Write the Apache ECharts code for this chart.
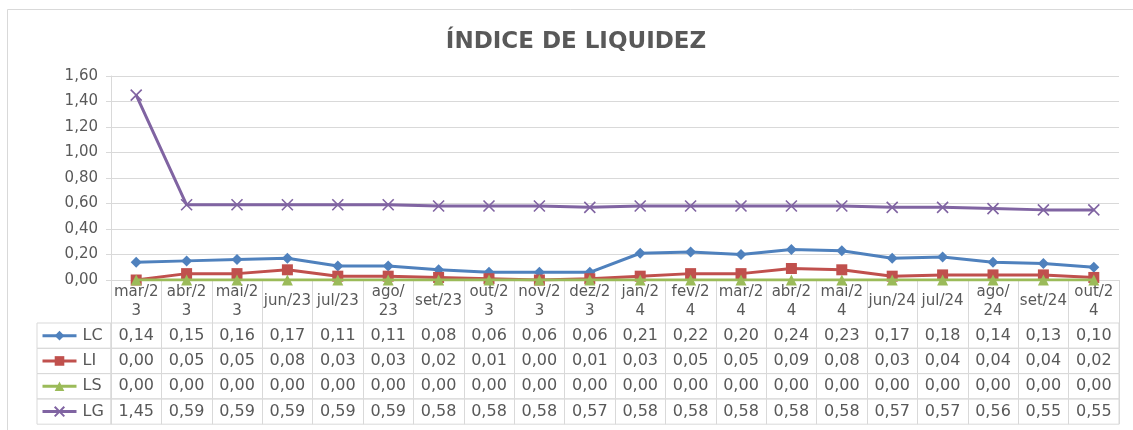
<!DOCTYPE html>
<html>
<head>
<meta charset="utf-8">
<script src="https://cdn.jsdelivr.net/npm/echarts@6/dist/echarts.min.js"></script>
<style>
  html, body { margin: 0; padding: 0; background: #ffffff; }
  #chart { width: 1133px; height: 430px; }
</style>
</head>
<body>
<div id="chart"></div>
<script>
// ---- data ----
var categories = ['mar/23','abr/23','mai/23','jun/23','jul/23','ago/23','set/23','out/23','nov/23','dez/23','jan/24','fev/24','mar/24','abr/24','mai/24','jun/24','jul/24','ago/24','set/24','out/24'];
var tickLabels = ['mar/2\n3','abr/2\n3','mai/2\n3','jun/23','jul/23','ago/\n23','set/23','out/2\n3','nov/2\n3','dez/2\n3','jan/2\n4','fev/2\n4','mar/2\n4','abr/2\n4','mai/2\n4','jun/24','jul/24','ago/\n24','set/24','out/2\n4'];
var seriesNames = ['LC', 'LI', 'LS', 'LG'];
var LC = [0.14,0.15,0.16,0.17,0.11,0.11,0.08,0.06,0.06,0.06,0.21,0.22,0.20,0.24,0.23,0.17,0.18,0.14,0.13,0.10];
var LI = [0.00,0.05,0.05,0.08,0.03,0.03,0.02,0.01,0.00,0.01,0.03,0.05,0.05,0.09,0.08,0.03,0.04,0.04,0.04,0.02];
var LS = [0.00,0.00,0.00,0.00,0.00,0.00,0.00,0.00,0.00,0.00,0.00,0.00,0.00,0.00,0.00,0.00,0.00,0.00,0.00,0.00];
var LG = [1.45,0.59,0.59,0.59,0.59,0.59,0.58,0.58,0.58,0.57,0.58,0.58,0.58,0.58,0.58,0.57,0.57,0.56,0.55,0.55];
var yTicks = { min: 0, max: 1.6, interval: 0.2 };

// ---- styling ----
var seriesData = [LC, LI, LS, LG];
var colors = ['#4F81BD', '#C0504D', '#9BBB59', '#8064A2'];
var symbols = ['diamond', 'rect', 'triangle', 'path://M0,0L10,10M10,0L0,10'];
var symbolSizes = [11, 11, 11, 11];
var FONT = 'DejaVu Sans';
var TXT = '#595959';
var LINE = '#d9d9d9';

var plotLeft = 111, plotTop = 76, plotW = 1008, plotH = 204;
var headerH = 43;
var rowH = 25.3;
var tableTop = plotTop + plotH + headerH;
var legendLeft = 37, legendW = plotLeft - legendLeft;

function fmt(v) { return v.toFixed(2).replace('.', ','); }

var grids = [{ left: plotLeft, top: plotTop, width: plotW, height: plotH }];
var xAxes = [{
  type: 'category', gridIndex: 0, data: categories, boundaryGap: true,
  axisLine: { show: true, lineStyle: { color: LINE, width: 1 } },
  axisTick: { show: true, interval: 0, length: headerH, lineStyle: { color: LINE } },
  axisLabel: {
    interval: 0, margin: headerH / 2, verticalAlign: 'middle',
    color: TXT, fontFamily: FONT, fontSize: 15, lineHeight: 19,
    formatter: function (v, i) { return tickLabels[i]; }
  }
}];
var yAxes = [{
  type: 'value', gridIndex: 0, min: yTicks.min, max: yTicks.max, interval: yTicks.interval,
  axisLine: { show: true, lineStyle: { color: LINE } },
  axisTick: { show: true, length: 5, lineStyle: { color: LINE } },
  splitLine: { show: true, lineStyle: { color: LINE, width: 1 } },
  axisLabel: { color: TXT, fontFamily: FONT, fontSize: 15, margin: 13, formatter: function (v) { return fmt(v); } }
}];
var legends = [];
var series = [];

seriesNames.forEach(function (name, r) {
  var top = tableTop + r * rowH;
  // legend cell
  grids.push({ left: legendLeft, top: top, width: legendW, height: rowH, show: true, borderColor: LINE, borderWidth: 1, backgroundColor: 'transparent' });
  var lgIdx = grids.length - 1;
  xAxes.push({ type: 'category', gridIndex: lgIdx, data: [''], show: false });
  yAxes.push({ type: 'value', gridIndex: lgIdx, show: false });
  // value cells
  grids.push({ left: plotLeft, top: top, width: plotW, height: rowH, show: true, borderColor: LINE, borderWidth: 1, backgroundColor: 'transparent' });
  var gIdx = grids.length - 1;
  (function (arr) {
    xAxes.push({
      type: 'category', gridIndex: gIdx, data: categories, boundaryGap: true, position: 'bottom',
      axisLine: { show: false }, axisTick: { show: false, interval: 0 },
      splitLine: { show: true, interval: 0, lineStyle: { color: LINE, width: 1 } },
      axisLabel: {
        interval: 0, margin: -rowH / 2, verticalAlign: 'middle',
        color: TXT, fontFamily: FONT, fontSize: 16,
        formatter: function (v, i) { return fmt(arr[i]); }
      }
    });
  })(seriesData[r]);
  yAxes.push({ type: 'value', gridIndex: gIdx, show: false });

  legends.push({
    data: [name], left: legendLeft + 4, top: top + rowH / 2 - 10, orient: 'horizontal',
    itemWidth: 34, itemHeight: 12, itemGap: 0, padding: 0,
    lineStyle: { width: 3 },
    textStyle: { color: TXT, fontFamily: FONT, fontSize: 16, lineHeight: 20, padding: [0, 0, 0, 1] }
  });

  series.push({
    name: name, type: 'line', xAxisIndex: 0, yAxisIndex: 0,
    data: seriesData[r],
    symbol: symbols[r], symbolSize: symbolSizes[r], showAllSymbol: true,
    lineStyle: { color: colors[r], width: 3 },
    itemStyle: r === 3 ? { color: colors[r], borderColor: colors[r], borderWidth: 1.6 } : { color: colors[r] },
    z: 2 + r,
    animation: false
  });
});

var chart = echarts.init(document.getElementById('chart'), null, { renderer: 'canvas' });
chart.setOption({
  animation: false,
  backgroundColor: '#ffffff',
  title: {
    text: 'ÍNDICE DE LIQUIDEZ', left: 571, top: 26, textAlign: 'center',
    textStyle: { color: TXT, fontFamily: FONT, fontSize: 23, fontWeight: 'bold' }
  },
  graphic: [{
    type: 'rect', left: 7, top: 9, silent: true,
    shape: { width: 1140, height: 440 },
    style: { fill: 'transparent', stroke: LINE, lineWidth: 1 }, z: -10
  }],
  legend: legends,
  grid: grids,
  xAxis: xAxes,
  yAxis: yAxes,
  series: series
});
</script>
</body>
</html>
